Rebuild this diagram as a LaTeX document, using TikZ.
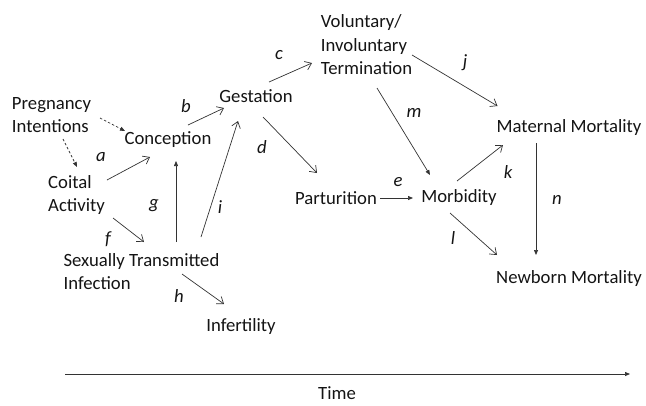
\documentclass[tikz,border=0pt]{standalone}
\usepackage{fontspec}
\setmainfont{Carlito}
\usetikzlibrary{arrows.meta,calc}
\begin{document}
\begin{tikzpicture}[x=1pt,y=-1pt,
  every node/.style={inner sep=0pt,outer sep=0pt,font=\fontsize{18.7}{23.5}\selectfont,text=black!92},
  lbl/.style={font=\fontsize{18.7}{23.5}\selectfont\itshape},
  blk/.style={align=left},
  arr/.style={draw=black!80,line width=0.7pt,-{Straight Barb[length=6pt,width=9pt,line width=0.7pt]}},
  farr/.style={draw=black!80,line width=0.7pt,-{Triangle[length=5pt,width=4pt]}},
  dsh/.style={draw=black!80,line width=0.7pt,dash pattern=on 2.5pt off 2pt,-{Triangle[length=5pt,width=4pt]}}]
\useasboundingbox (0,0) rectangle (646,405);
% nodes
\node[blk] (pi) at (51.5,115) {Pregnancy\\Intentions};
\node (conc) at (168,140) {Conception};
\node[blk] (coital) at (76.5,195) {Coital\\Activity};
\node (gest) at (256,96) {Gestation};
\node[blk] (term) at (366.5,45) {Voluntary/\\Involuntary\\Termination};
\node (mat) at (569,128) {Maternal Mortality};
\node (part) at (336,198) {Parturition};
\node (morb) at (459,198) {Morbidity};
\node (newb) at (569,279) {Newborn Mortality};
\node[blk] (sti) at (141.5,271.5) {Sexually Transmitted\\Infection};
\node (inf) at (241,327) {Infertility};
\node (time) at (337,393.5) {Time};
% labels
\node[lbl] (la) at (101,157) {a};
\node[lbl] (lb) at (186,106) {b};
\node[lbl] (lc) at (279,55) {c};
\node[lbl] (ld) at (262,147) {d};
\node[lbl] (le) at (398,182) {e};
\node[lbl] (lf) at (108,239) {f};
\node[lbl] (lg) at (154,206) {g};
\node[lbl] (lh) at (179,296) {h};
\node[lbl] (li) at (220,207) {i};
\node[lbl] (lj) at (465,63) {j};
\node[lbl] (lk) at (508,172) {k};
\node[lbl] (ll) at (453,238) {l};
\node[lbl] (lm) at (414,113) {m};
\node[lbl] (ln) at (557,200) {n};
% connectors
\draw[dsh] ($(pi)+(48.5,3)$) -- ($(conc)+(-43,-9)$);
\draw[dsh] ($(pi)+(11.5,24)$) -- ($(coital)+(0.5,-28)$);
\draw[arr] ($(coital)+(30.5,-15)$) -- ($(conc)+(-18,17)$);
\draw[arr] ($(conc)+(20,-15)$) -- ($(gest)+(-32,12)$);
\draw[arr] ($(gest)+(13,-14)$) -- ($(term)+(-54.5,18)$);
\draw[arr] ($(gest)+(7,21)$) -- ($(part)+(-19,-25)$);
\draw[farr] ($(part)+(44,0)$) -- ($(morb)+(-46,0)$);
\draw[arr] ($(coital)+(36.5,23)$) -- ($(sti)+(2.5,-29.5)$);
\draw[farr] ($(sti)+(34.5,-29.5)$) -- ($(conc)+(8,21)$);
\draw[arr] ($(sti)+(40.5,2.5)$) -- ($(inf)+(-17,-23)$);
\draw[arr] ($(sti)+(59.5,-34.5)$) -- ($(gest)+(-18,25)$);
\draw[arr] ($(term)+(45.5,10)$) -- ($(mat)+(-71.5,-22)$);
\draw[arr] ($(morb)+(-2,-17)$) -- ($(mat)+(-66,17)$);
\draw[arr] ($(morb)+(-9,15)$) -- ($(newb)+(-72,-24)$);
\draw[farr] ($(term)+(10.5,43)$) -- ($(morb)+(-29,-23)$);
\draw[farr] ($(mat)+(-33,15)$) -- ($(newb)+(-33,-24)$);
\coordinate (t0) at (65,374);
\coordinate (t1) at (630,374);
\draw[farr] (t0) -- (t1);
\end{tikzpicture}
\end{document}
